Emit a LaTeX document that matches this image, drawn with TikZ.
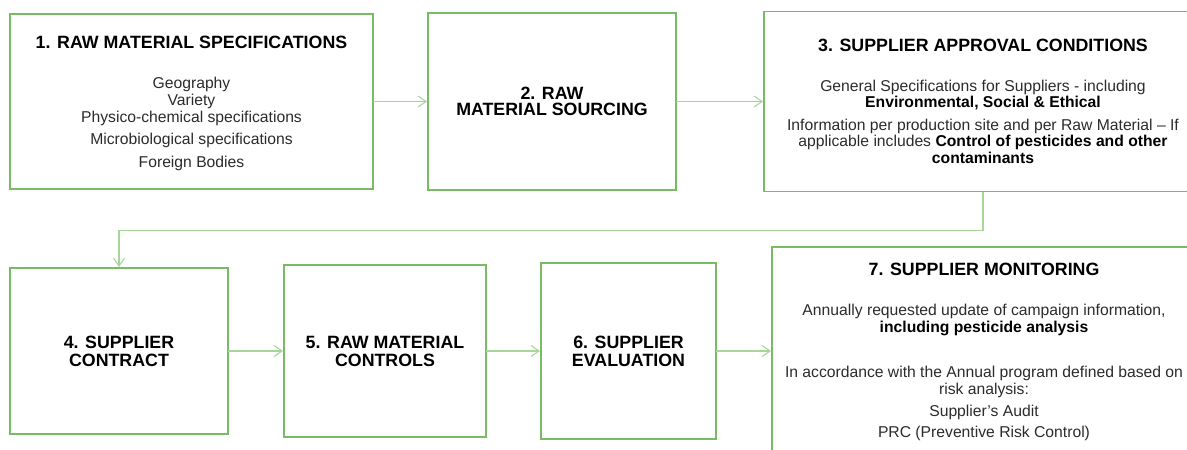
\documentclass[tikz,border=0pt]{standalone}
\usepackage{fontspec}
\setmainfont{Liberation Sans}
\usetikzlibrary{arrows.meta}
\definecolor{boxgreen}{HTML}{79BB63}
\definecolor{linegreen}{HTML}{A6D699}
\definecolor{bodygray}{HTML}{2B2B2B}
\begin{document}
\begin{tikzpicture}[x=1pt,y=-1pt,
  box/.style={draw=boxgreen, line width=1.4pt, inner sep=0pt, outer sep=0pt, rectangle},
  conn/.style={draw=linegreen, line width=1.1pt, -{Straight Barb[length=8pt,width=11pt]}, shorten >=1pt},
  ttl/.style={font=\fontsize{17.8}{17.5}\selectfont\bfseries, text=black, align=center, anchor=base, inner sep=0pt},
  body/.style={font=\fontsize{15.7}{17}\selectfont, text=bodygray, align=center, anchor=base, inner sep=0pt}]
\path[use as bounding box] (0,0) rectangle (1187,450);
\clip (0,0) rectangle (1187,450);
% boxes
\node[box, minimum width=363pt, minimum height=175pt] (b1) at (191.5,101.5) {};
\node[box, minimum width=248pt, minimum height=177pt] (b2) at (552,101.5) {};
\node[box, minimum width=438pt, minimum height=180pt] (b3) at (983,101.5) {};
\node[box, minimum width=218pt, minimum height=166pt] (b4) at (119,351) {};
\node[box, minimum width=202pt, minimum height=172pt] (b5) at (385,351) {};
\node[box, minimum width=175pt, minimum height=176pt] (b6) at (628.5,351) {};
\node[box, minimum width=424pt, minimum height=208pt] (b7) at (984,351) {};
% texts (anchor base = baseline of the last line)
\node[ttl] (t1) at (191.5,48.5) {1. RAW MATERIAL SPECIFICATIONS};
\node[body] (d1) at (191.5,167) {Geography\\Variety\\Physico-chemical specifications\\[5pt]Microbiological specifications\\[6pt]Foreign Bodies};
\node[ttl, font=\fontsize{17.8}{16}\selectfont\bfseries] (t2) at (552,115.5) {2. RAW\\MATERIAL SOURCING};
\node[ttl] (t3) at (983,51.5) {3. SUPPLIER APPROVAL CONDITIONS};
\node[body, font=\fontsize{15.7}{16.2}\selectfont] (d3) at (983,163) {General Specifications for Suppliers - including\\\textbf{\color{black}Environmental, Social \& Ethical}\\[6.8pt]Information per production site and per Raw Material – If\\applicable includes \textbf{\color{black}Control of pesticides and other}\\\textbf{\color{black}contaminants}};
\node[ttl] (t4) at (119,366) {4. SUPPLIER\\CONTRACT};
\node[ttl] (t5) at (385,366) {5. RAW MATERIAL\\CONTROLS};
\node[ttl] (t6) at (628.5,366) {6. SUPPLIER\\EVALUATION};
\node[ttl] (t7) at (984,275.5) {7. SUPPLIER MONITORING};
\node[body] (d7) at (984,437) {Annually requested update of campaign information,\\\textbf{\color{black}including pesticide analysis}\\[28pt]In accordance with the Annual program defined based on\\risk analysis:\\[5pt]Supplier’s Audit\\[4pt]PRC (Preventive Risk Control)};
% connectors
\draw[conn] (b1.east) -- (b2.west);
\draw[conn] (b2.east) -- (b3.west);
\draw[conn] (b3.south) -- ++(0,39) -| (b4.north);
\draw[conn] (b4.east) -- (b5.west);
\draw[conn] (b5.east) -- (b6.west);
\draw[conn] (b6.east) -- (b7.west);
\end{tikzpicture}
\end{document}
